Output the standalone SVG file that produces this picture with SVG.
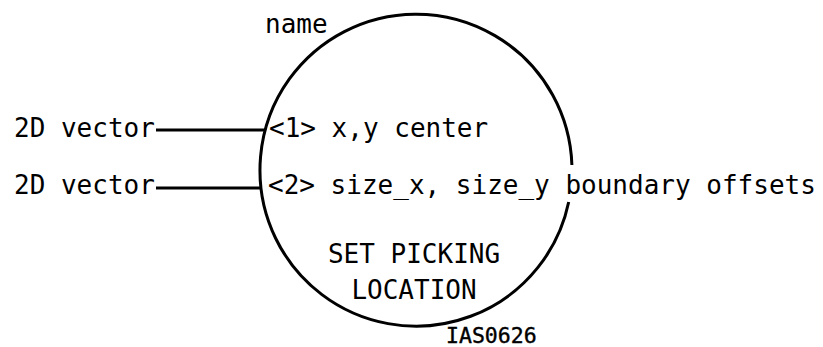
<svg xmlns="http://www.w3.org/2000/svg" width="823" height="347" viewBox="0 0 823 347">
<style>
.t{font-family:"DejaVu Sans Mono","Liberation Mono",monospace;font-size:26px;fill:#000}
.s{font-family:"DejaVu Sans Mono","Liberation Mono",monospace;font-size:21.5px;fill:#000;stroke:#000;stroke-width:0.4}
.ln{stroke:#000;stroke-width:3;fill:none}
</style>
<rect width="823" height="347" fill="#fff"/>
<g id="node-set-picking-location">
<path class="ln" d="M568.7 202 A156 156 0 1 1 571.9 165"/>
<text class="t" x="265" y="33">name</text>
<text class="t" x="414" y="263" text-anchor="middle">SET PICKING</text>
<text class="t" x="414" y="299" text-anchor="middle">LOCATION</text>
<text class="t" x="269" y="137">&lt;1&gt; x,y center</text>
<text class="t" x="268" y="194">&lt;2&gt; size_x, size_y boundary offsets</text>
</g>
<g id="input-1"><text class="t" x="14" y="137">2D vector</text></g>
<g id="input-2"><text class="t" x="14" y="194">2D vector</text></g>
<g id="connectors">
<line class="ln" x1="156" y1="130" x2="266" y2="130"/>
<line class="ln" x1="156" y1="188" x2="261" y2="188"/>
</g>
<text class="s" x="446" y="343">IAS0626</text>
</svg>
